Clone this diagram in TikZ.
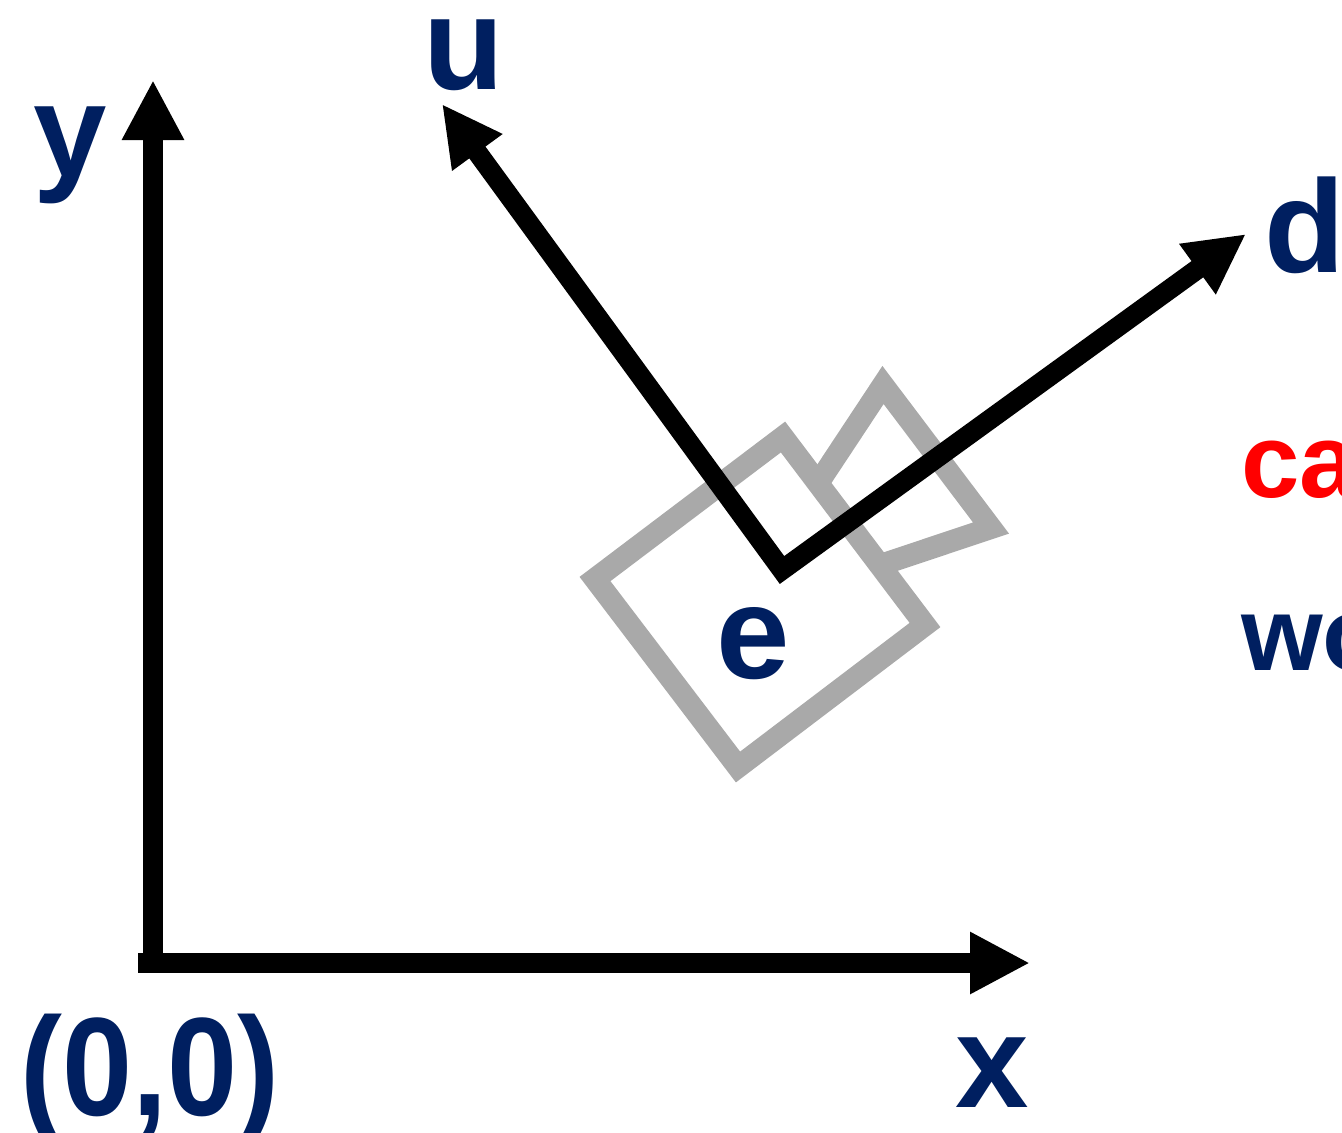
\documentclass[tikz,border=0pt]{standalone}
\usepackage{fontspec}
\setmainfont{Liberation Sans}
\usetikzlibrary{arrows.meta}
\definecolor{labnavy}{HTML}{001F60}
\definecolor{camred}{HTML}{FF0000}
\definecolor{camgray}{HTML}{A9A9A9}

\begin{document}
\begin{tikzpicture}[x=1pt,y=-1pt,
 lab/.style={text=labnavy,font=\bfseries\fontsize{132}{132}\selectfont,inner sep=0pt,anchor=base},
 note/.style={font=\bfseries\fontsize{105}{105}\selectfont,inner sep=0pt,anchor=base west},
 axis/.style={line width=20pt,-{Triangle[length=60pt,width=58pt]}},
 vec/.style={line width=20pt,line join=miter,{Triangle[length=60pt,width=58pt]}-{Triangle[length=60pt,width=58pt]}},
 cam/.style={draw=camgray,line width=22pt,line join=miter}]
\useasboundingbox (0,0) rectangle (1342,1133);
% camera outline
\draw[cam] (731,615)--(883,385)--(991,528)--cycle;
\draw[cam,fill=white] (595,579)--(783,437)--(925,625)--(738,767)--cycle;
% axes
\coordinate (ytip) at (153,80);
\coordinate (ybot) at (153,958);
\coordinate (xbeg) at (138,963);
\coordinate (xtip) at (1030,963);
\draw[axis] (ybot)--(ytip);
\draw[axis] (xbeg)--(xtip);
% camera frame
\coordinate (eye) at (782,570);
\coordinate (utip) at (442,104);
\coordinate (dtip) at (1246,234);
\draw[vec] (utip)--(eye)--(dtip);
% labels
\foreach \x/\y/\id/\txt in {70/176/ylab/y,464/89/ulab/u,1305/272/dlab/d,753/678/elab/e,992/1107/xlab/x}
 \node[lab] (\id) at (\x,\y) {\txt};
\node[lab,anchor=base west,font=\bfseries\fontsize{140}{140}\selectfont] (olab) at (20,1115) {\scalebox{0.9}[1]{(0,0)}};
\node[note,text=camred] (camlab) at (1241,497) {camera};
\node[note,text=labnavy] (worldlab) at (1241,670) {world};
\end{tikzpicture}
\end{document}
